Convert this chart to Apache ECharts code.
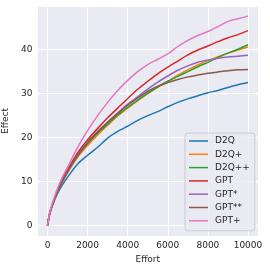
<!DOCTYPE html>
<html><head><meta charset="utf-8">
<script src="https://cdn.jsdelivr.net/npm/echarts@6/dist/echarts.min.js"></script>
<style>html,body{margin:0;padding:0;background:#fff}#c{width:270px;height:271px}</style>
</head><body><div id="c"></div>
<script>
const effort = [0,100,250,500,750,1000,1500,2000,2500,3000,3500,4000,4500,5000,5500,6000,6500,7000,7500,8000,8500,9000,9500,10000];
const seriesNames = ['D2Q','D2Q+','D2Q++','GPT','GPT*','GPT**','GPT+'];
const d2q    = [0,2.5,4.6,7.3,9.3,11.0,14.0,16.0,17.8,19.9,21.4,22.6,23.9,25.0,25.9,27.0,28.0,28.8,29.5,30.2,30.7,31.4,32.0,32.5];
const d2qP   = [0,2.6,4.8,7.7,10.0,12.0,15.5,18.2,20.6,22.8,24.9,26.7,28.4,30.0,31.5,32.8,34.2,35.4,36.5,37.5,38.4,39.2,39.9,40.6];
const d2qPP  = [0,2.6,4.8,7.7,10.1,12.2,15.8,18.6,21.0,23.1,25.1,26.9,28.5,30.1,31.5,32.8,33.9,35.0,36.1,37.1,38.2,39.2,40.1,41.1];
const gpt    = [0,2.7,5.0,8.0,10.6,12.7,16.5,19.5,22.1,24.5,26.7,28.9,31.0,32.8,34.5,36.0,37.4,38.8,39.9,40.8,41.8,42.7,43.4,44.3];
const gptS   = [0,2.6,4.8,7.8,10.2,12.3,16.0,18.9,21.4,23.5,25.6,27.6,29.3,31.0,32.6,34.0,35.3,36.3,37.1,37.6,38.0,38.3,38.5,38.7];
const gptSS  = [0,2.6,4.8,7.8,10.2,12.3,16.0,18.9,21.3,23.5,25.5,27.4,29.0,30.5,31.7,32.5,33.2,33.8,34.2,34.6,34.9,35.2,35.4,35.5];
const gptP   = [0,2.8,5.2,8.5,11.1,13.3,17.8,21.6,25.0,28.0,30.7,33.0,35.0,36.6,37.8,39.0,40.7,42.1,43.2,44.1,45.2,46.4,47.0,47.6];
const allValues = [d2q,d2qP,d2qPP,gpt,gptS,gptSS,gptP];
const colors = ['#1f77b4','#ff7f0e','#2ca02c','#d62728','#9467bd','#8c564b','#e377c2'];

const chart = echarts.init(document.getElementById('c'), null, {renderer:'canvas'});
const txt = '#262626';
const font = 'DejaVu Sans';
chart.setOption({
  animation:false,
  backgroundColor:'#ffffff',
  grid:{left:37.5,right:12,top:6,bottom:35,show:true,backgroundColor:'#EAEAF2',borderWidth:0,
    containLabel:false,outerBoundsMode:'none'},
  xAxis:{type:'value',min:-500,max:10500,splitNumber:5,
    name:'Effort',nameLocation:'middle',nameGap:19,
    nameTextStyle:{color:txt,fontFamily:font,fontSize:9},
    axisLine:{show:false},axisTick:{show:false},
    axisLabel:{color:txt,fontFamily:font,fontSize:9,margin:5,
      formatter:v=> (v%2000===0 ? String(v) : '')},
    splitLine:{show:true,lineStyle:{color:'#ffffff',width:1}}},
  yAxis:{type:'value',min:-2.35,max:49.9,splitNumber:5,
    name:'Effect',nameLocation:'middle',nameGap:18,
    nameTextStyle:{color:txt,fontFamily:font,fontSize:9},
    axisLine:{show:false},axisTick:{show:false},
    axisLabel:{color:txt,fontFamily:font,fontSize:9,margin:5,
      formatter:v=> (Math.abs(v%10)<1e-9 ? String(v) : '')},
    splitLine:{show:true,lineStyle:{color:'#ffffff',width:1}}},
  legend:{orient:'vertical',left:185,top:133,
    icon:'rect',itemWidth:19,itemHeight:1.5,itemGap:3.3,
    padding:[3,5,5,4],
    backgroundColor:'rgba(234,234,242,0.8)',borderColor:'#cccccc',borderWidth:1,borderRadius:3,
    textStyle:{color:txt,fontFamily:font,fontSize:9,lineHeight:10,padding:[0,0,0,2]},
    data:seriesNames},
  series: seriesNames.map((n,i)=>({
    name:n,type:'line',showSymbol:false,symbol:'none',
    color:colors[i],
    lineStyle:{width:1.5,color:colors[i]},
    data: effort.map((x,j)=>[x, allValues[i][j]]),
    smooth:0.3
  }))
});
</script></body></html>
